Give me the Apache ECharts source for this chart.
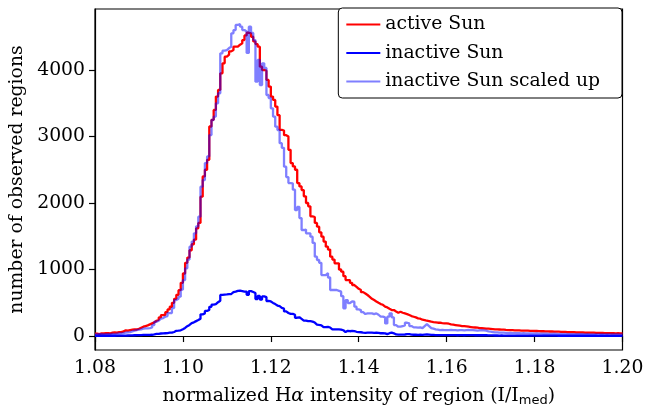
<!DOCTYPE html>
<html>
<head>
<meta charset="utf-8">
<script src="https://cdn.jsdelivr.net/npm/echarts@6/dist/echarts.min.js"></script>
<style>
html,body{margin:0;padding:0;background:#fff;}
#chart{width:655px;height:408px;}
</style>
</head>
<body>
<div id="chart"></div>
<script>
// Histogram bins (normalized Hα intensity), bin width 0.0005 from 1.08
var binStart = 1.08;
var binWidth = 0.0005;

var activeSun = [
35,30,40,38,42, 45,40,50,55,52, 60,58,70,85,80, 90,95,100,98,110,
125,140,150,160,175, 190,205,230,245,280, 315,320,360,400,440, 500,560,620,690,800,
940,1100,1180,1290,1380, 1450,1620,1700,2095,2400, 2500,2650,3150,3250,3400, 3600,3700,3950,4100,4200,
4230,4280,4300,4350,4350, 4380,4400,4450,4520,4560, 4550,4500,4430,4390,4350, 4050,4000,3990,3850,3750,
3600,3550,3450,3320,3100, 3090,3020,3000,2800,2600, 2550,2500,2300,2250,2195, 2100,2000,1950,1800,1790,
1700,1644,1560,1494,1420, 1343,1300,1193,1150,1093, 1093,1000,967,900,842, 842,800,767,740,710,
692,660,640,617,590, 560,541,520,500,481, 470,441,430,410,391, 391,370,351,366,350,
340,330,316,300,290, 280,266,260,245,240, 230,225,216,210,205, 200,200,195,191,190,
185,175,170,165,160, 155,150,150,145,140, 135,130,128,125,120, 118,115,112,110,108,
105,100,100,98,96, 95,92,90,90,88, 86,85,84,82,82, 80,80,78,78,76,
76,74,72,72,70, 70,68,68,66,65, 65,63,62,62,60, 60,58,58,56,55,
55,54,52,52,50, 50,50,48,48,46, 46,45,44,44,42, 42,40,42,40,40
];

var inactiveSun = [
4,4,4,4,4, 4,4,5,4,5, 6,6,7,7,8, 9,10,12,13,14,
15,16,17,17,17, 19,24,31,33,38, 39,42,44,50,50, 61,79,81,86,102,
122,148,167,195,206, 224,240,261,326,341, 378,392,439,472,480, 509,531,618,624,625,
629,632,661,669,680, 682,676,669,666,619, 676,662,647,556,603, 549,596,586,527,520,
498,480,458,450,422, 411,370,347,334,334, 320,275,282,258,232, 233,224,224,217,203,
173,166,160,133,133, 138,128,101,101,101, 99,97,87,60,79, 72,76,75,64,58,
57,52,48,50,50, 50,48,50,47,42, 42,41,28,42,50, 41,24,20,20,22,
23,29,28,22,19, 19,18,19,17,22, 26,22,17,16,15, 14,13,13,13,13,
13,13,13,13,12, 13,13,12,13,13, 13,13,12,12,12, 13,12,12,10,9,
9,8,8,7,8, 7,7,7,7,6, 7,6,6,6,6, 6,6,6,6,5,
6,5,5,5,5, 5,5,5,5,5, 4,5,4,5,4, 4,4,4,4,4,
4,4,4,4,4, 4,4,4,3,4, 4,3,4,3,3, 3,3,3,3,3
];

var inactiveScaled = [
25,28,30,25,30, 30,28,32,30,35, 38,40,45,50,55, 60,70,80,90,95,
100,110,115,115,120, 130,165,215,230,260, 270,290,300,345,345, 420,541,560,591,700,
842,1018,1150,1343,1420, 1544,1650,1794,2245,2346, 2601,2700,3022,3248,3300, 3499,3650,4251,4290,4300,
4330,4350,4551,4600,4677, 4692,4651,4600,4580,4256, 4651,4556,4450,3824,4150, 3774,4100,4030,3624,3579,
3424,3300,3148,3098,2900, 2830,2546,2390,2300,2296, 2200,1895,1940,1774,1594, 1600,1544,1544,1494,1400,
1193,1143,1100,917,917, 947,880,692,692,692, 680,667,600,416,541, 496,520,516,441,400,
391,360,331,341,341, 341,330,341,320,291, 291,280,190,291,341, 280,165,140,140,150,
160,200,190,150,130, 130,125,130,120,150, 180,150,120,110,100, 95,90,92,90,88,
90,92,90,88,85, 90,88,85,90,92, 88,90,85,80,85, 90,85,80,70,65,
60,55,55,50,52, 50,48,45,46,44, 45,42,44,40,42, 40,40,38,40,36,
38,36,35,34,36, 34,33,32,34,32, 30,32,30,31,30, 30,28,30,28,28,
27,28,26,27,26, 26,25,26,24,25, 25,24,25,24,23, 24,23,24,22,23
];

var xTicks = [1.08, 1.10, 1.12, 1.14, 1.16, 1.18, 1.20];
var yTicks = [0, 1000, 2000, 3000, 4000];
var seriesNames = ['active Sun', 'inactive Sun', 'inactive Sun scaled up'];

function toSteps(vals) {
  var out = [];
  for (var i = 0; i < vals.length; i++) {
    out.push([+(binStart + i * binWidth).toFixed(5), vals[i]]);
  }
  out.push([+(binStart + vals.length * binWidth).toFixed(5), vals[vals.length - 1]]);
  return out;
}

var FONT = 'DejaVu Serif';
var FS = 18.8;
var chart = echarts.init(document.getElementById('chart'), null, {renderer: 'canvas'});

function lineSeries(name, vals, color) {
  return {
    name: name, type: 'line', step: 'end', data: toSteps(vals),
    symbol: 'none', showSymbol: false, animation: false,
    lineStyle: {color: color, width: 2.3}, itemStyle: {color: color},
    clip: true
  };
}

chart.setOption({
  animation: false,
  grid: {left: 95, right: 32.5, top: 9, bottom: 58, containLabel: false, outerBoundsMode: 'none',
    show: true, borderColor: '#000', borderWidth: 1.2, backgroundColor: 'transparent'},
  xAxis: {
    type: 'value', min: 1.08, max: 1.20, interval: 0.02,
    axisLine: {show: true, lineStyle: {color: '#000', width: 1.2}},
    axisTick: {show: true, inside: false, length: 6, lineStyle: {color: '#000', width: 1.2}},
    splitLine: {show: false},
    axisLabel: {color: '#000', fontFamily: FONT, fontSize: FS, margin: 9,
      formatter: function (v) { return v.toFixed(2); }},
    name: '{n|normalized H}{a|α}{n| intensity of region (I/I}{s|med}{n|)}',
    nameLocation: 'middle', nameGap: 35,
    nameTextStyle: {
      color: '#000', fontFamily: FONT, fontSize: FS,
      rich: {
        n: {fontFamily: FONT, fontSize: FS, color: '#000'},
        a: {fontFamily: FONT, fontSize: FS, fontStyle: 'italic', color: '#000'},
        s: {fontFamily: 'DejaVu Sans', fontSize: 13, color: '#000', padding: [9, 0, 0, 0]}
      }
    }
  },
  yAxis: {
    type: 'value', min: -210, max: 4917,
    axisLine: {show: true, lineStyle: {color: '#000', width: 1.2}},
    axisTick: {show: true, inside: false, length: 6, customValues: yTicks, lineStyle: {color: '#000', width: 1.2}},
    splitLine: {show: false},
    axisLabel: {color: '#000', fontFamily: FONT, fontSize: FS, margin: 10, customValues: yTicks,
      formatter: function (v) { return String(v); }},
    name: 'number of observed regions', nameLocation: 'middle', nameGap: 54,
    nameTextStyle: {color: '#000', fontFamily: FONT, fontSize: FS}
  },
  legend: {
    orient: 'vertical', right: 33, top: 8,
    data: seriesNames,
    itemWidth: 34, itemHeight: 19, itemGap: 9.5,
    padding: [7, 22, 7, 7],
    backgroundColor: '#fff', borderColor: '#000', borderWidth: 1, borderRadius: 4,
    itemStyle: {opacity: 0},
    textStyle: {color: '#000', fontFamily: FONT, fontSize: FS, lineHeight: 19, padding: [0, 0, 0, 0]}
  },
  series: [
    lineSeries(seriesNames[0], activeSun, '#ff0000'),
    lineSeries(seriesNames[1], inactiveSun, '#0000ff'),
    lineSeries(seriesNames[2], inactiveScaled, 'rgba(0,0,255,0.5)')
  ]
});
</script>
</body>
</html>
